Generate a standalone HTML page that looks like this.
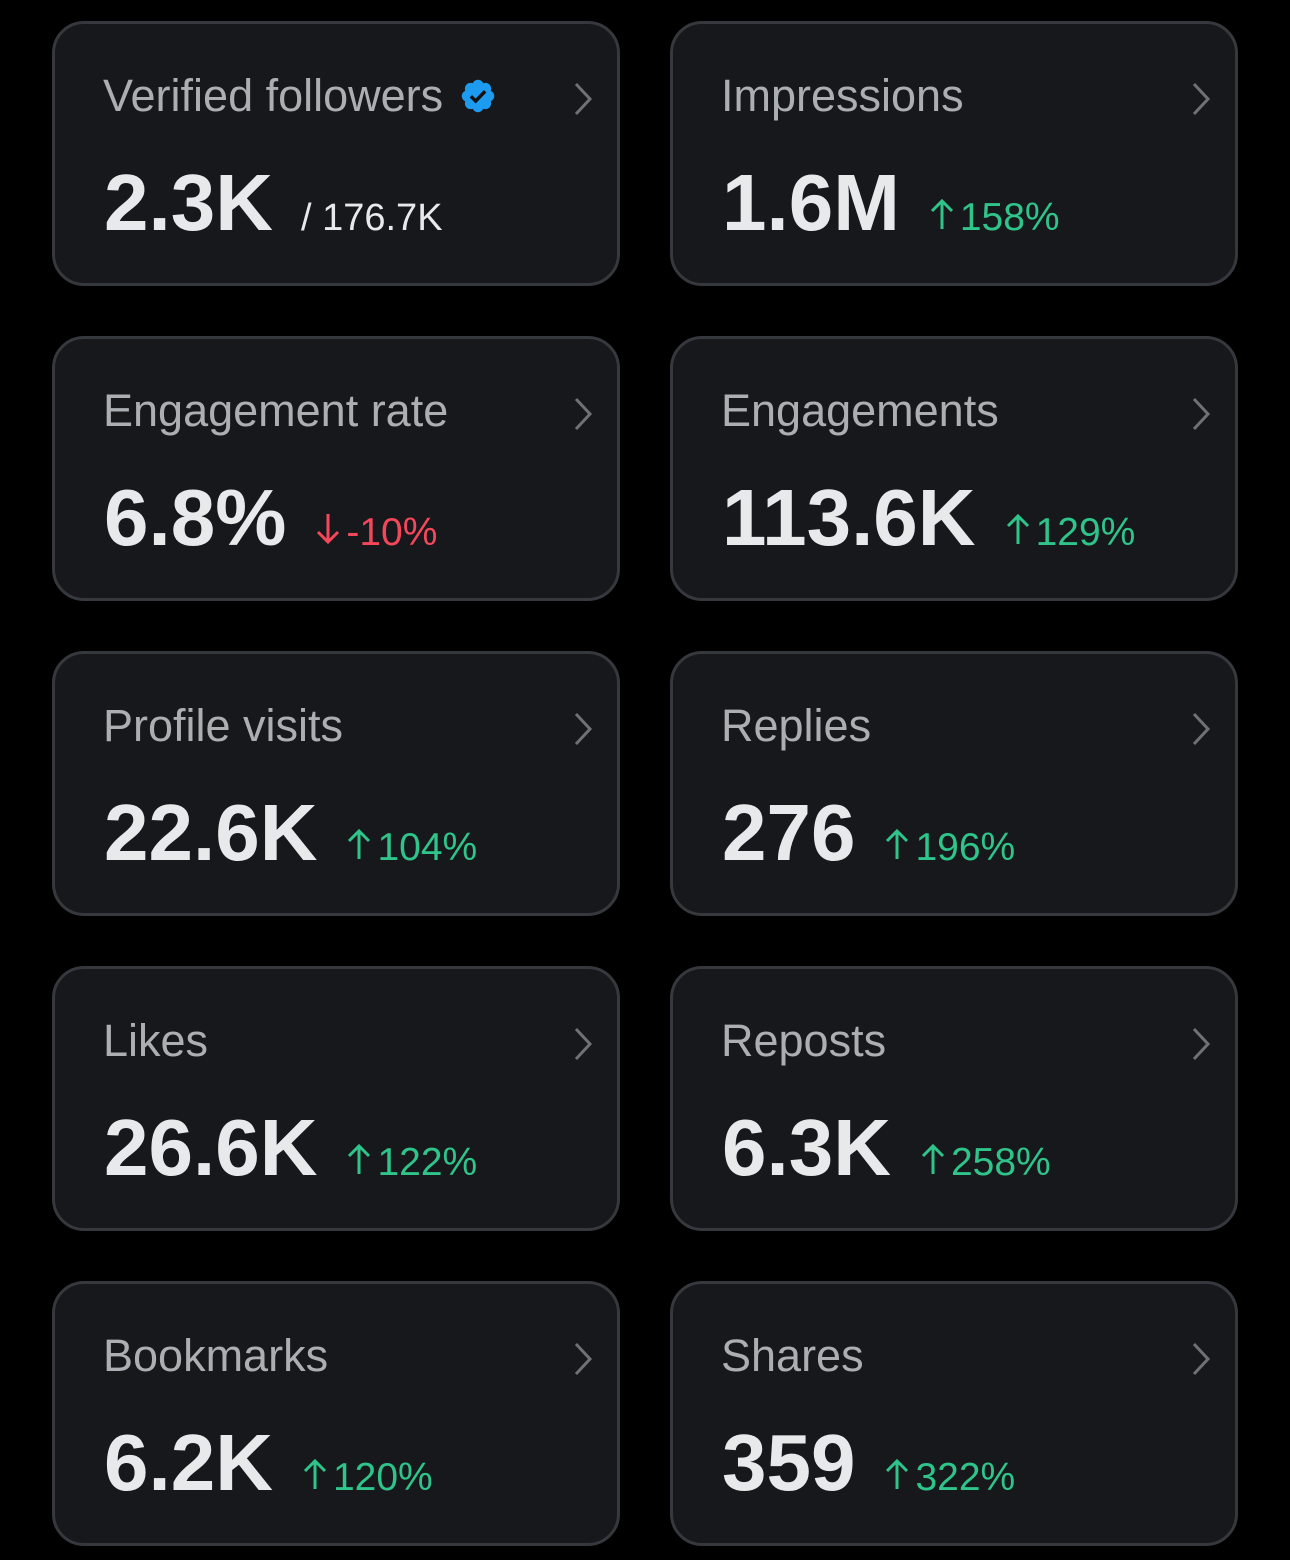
<!DOCTYPE html>
<html><head><meta charset="utf-8"><style>
body{margin:0;width:1290px;height:1560px;background:#000;font-family:"Liberation Sans",sans-serif;overflow:hidden;position:relative}
.card{position:absolute;width:562px;height:259px;border:3px solid #35383d;border-radius:32px;background:#17181c;box-sizing:content-box}
.t{position:absolute;left:48px;top:49px;font-size:45px;line-height:45px;color:#abaeb2;white-space:nowrap;display:flex;align-items:center}
.chev{position:absolute;right:24px;top:58px}
.v{position:absolute;left:49px;top:139px;height:80px;display:flex;align-items:baseline;white-space:nowrap}
.n{font-size:80px;line-height:80px;font-weight:bold;color:#e7e9ea;letter-spacing:0px}
.p{font-size:39px;color:#2fc48a;margin-left:30px;display:flex;align-items:baseline}
.p svg{margin-right:6px}
.d{color:#f4475a}
.s{font-size:38px;color:#e7e9ea;margin-left:28px}
</style></head><body>
<div class="card" style="left:52px;top:21px"><div class="t">Verified followers<svg style="margin-left:16px" width="38" height="38" viewBox="0 0 24 24"><path fill="#1d9bf0" d="M22.25 12c0-1.43-.88-2.670-2.19-3.34.46-1.39.2-2.9-.81-3.91s-2.52-1.27-3.91-.81c-.66-1.31-1.910-2.19-3.34-2.19s-2.67.88-3.33 2.19c-1.4-.46-2.91-.2-3.92.81s-1.26 2.52-.8 3.910c-1.31.67-2.2 1.91-2.2 3.34s.89 2.67 2.2 3.34c-.46 1.39-.21 2.9.8 3.91s2.52 1.26 3.91.81c.67 1.31 1.91 2.19 3.34 2.19s2.68-.88 3.34-2.19c1.39.45 2.9.2 3.91-.81s1.27-2.52.81-3.91c1.31-.67 2.19-1.91 2.19-3.34z"/><path d="M7.5 12.2l3 3 6-6.2" stroke="#111" stroke-width="2.2" fill="none"/></svg></div>
<svg class="chev" width="20" height="34" viewBox="0 0 20 34"><path d="M3 2l14 15L3 32" stroke="#6e7176" stroke-width="3" fill="none"/></svg>
<div class="v"><span class="n">2.3K</span><span class="s">/ 176.7K</span></div></div>

<div class="card" style="left:670px;top:21px"><div class="t">Impressions</div>
<svg class="chev" width="20" height="34" viewBox="0 0 20 34"><path d="M3 2l14 15L3 32" stroke="#6e7176" stroke-width="3" fill="none"/></svg>
<div class="v"><span class="n">1.6M</span><span class="p"><svg width="24" height="32" viewBox="0 0 24 32"><path d="M12 31V3M2 13L12 3l10 10" stroke="#2fc48a" stroke-width="3" fill="none"/></svg>158%</span></div></div>

<div class="card" style="left:52px;top:336px"><div class="t">Engagement rate</div>
<svg class="chev" width="20" height="34" viewBox="0 0 20 34"><path d="M3 2l14 15L3 32" stroke="#6e7176" stroke-width="3" fill="none"/></svg>
<div class="v"><span class="n">6.8%</span><span class="p d"><svg width="24" height="32" viewBox="0 0 24 32"><path d="M12 1v28M2 19l10 10 10-10" stroke="#f4475a" stroke-width="3" fill="none"/></svg>-10%</span></div></div>

<div class="card" style="left:670px;top:336px"><div class="t">Engagements</div>
<svg class="chev" width="20" height="34" viewBox="0 0 20 34"><path d="M3 2l14 15L3 32" stroke="#6e7176" stroke-width="3" fill="none"/></svg>
<div class="v"><span class="n">113.6K</span><span class="p"><svg width="24" height="32" viewBox="0 0 24 32"><path d="M12 31V3M2 13L12 3l10 10" stroke="#2fc48a" stroke-width="3" fill="none"/></svg>129%</span></div></div>

<div class="card" style="left:52px;top:651px"><div class="t">Profile visits</div>
<svg class="chev" width="20" height="34" viewBox="0 0 20 34"><path d="M3 2l14 15L3 32" stroke="#6e7176" stroke-width="3" fill="none"/></svg>
<div class="v"><span class="n">22.6K</span><span class="p"><svg width="24" height="32" viewBox="0 0 24 32"><path d="M12 31V3M2 13L12 3l10 10" stroke="#2fc48a" stroke-width="3" fill="none"/></svg>104%</span></div></div>

<div class="card" style="left:670px;top:651px"><div class="t">Replies</div>
<svg class="chev" width="20" height="34" viewBox="0 0 20 34"><path d="M3 2l14 15L3 32" stroke="#6e7176" stroke-width="3" fill="none"/></svg>
<div class="v"><span class="n">276</span><span class="p"><svg width="24" height="32" viewBox="0 0 24 32"><path d="M12 31V3M2 13L12 3l10 10" stroke="#2fc48a" stroke-width="3" fill="none"/></svg>196%</span></div></div>

<div class="card" style="left:52px;top:966px"><div class="t">Likes</div>
<svg class="chev" width="20" height="34" viewBox="0 0 20 34"><path d="M3 2l14 15L3 32" stroke="#6e7176" stroke-width="3" fill="none"/></svg>
<div class="v"><span class="n">26.6K</span><span class="p"><svg width="24" height="32" viewBox="0 0 24 32"><path d="M12 31V3M2 13L12 3l10 10" stroke="#2fc48a" stroke-width="3" fill="none"/></svg>122%</span></div></div>

<div class="card" style="left:670px;top:966px"><div class="t">Reposts</div>
<svg class="chev" width="20" height="34" viewBox="0 0 20 34"><path d="M3 2l14 15L3 32" stroke="#6e7176" stroke-width="3" fill="none"/></svg>
<div class="v"><span class="n">6.3K</span><span class="p"><svg width="24" height="32" viewBox="0 0 24 32"><path d="M12 31V3M2 13L12 3l10 10" stroke="#2fc48a" stroke-width="3" fill="none"/></svg>258%</span></div></div>

<div class="card" style="left:52px;top:1281px"><div class="t">Bookmarks</div>
<svg class="chev" width="20" height="34" viewBox="0 0 20 34"><path d="M3 2l14 15L3 32" stroke="#6e7176" stroke-width="3" fill="none"/></svg>
<div class="v"><span class="n">6.2K</span><span class="p"><svg width="24" height="32" viewBox="0 0 24 32"><path d="M12 31V3M2 13L12 3l10 10" stroke="#2fc48a" stroke-width="3" fill="none"/></svg>120%</span></div></div>

<div class="card" style="left:670px;top:1281px"><div class="t">Shares</div>
<svg class="chev" width="20" height="34" viewBox="0 0 20 34"><path d="M3 2l14 15L3 32" stroke="#6e7176" stroke-width="3" fill="none"/></svg>
<div class="v"><span class="n">359</span><span class="p"><svg width="24" height="32" viewBox="0 0 24 32"><path d="M12 31V3M2 13L12 3l10 10" stroke="#2fc48a" stroke-width="3" fill="none"/></svg>322%</span></div></div>
</body></html>
